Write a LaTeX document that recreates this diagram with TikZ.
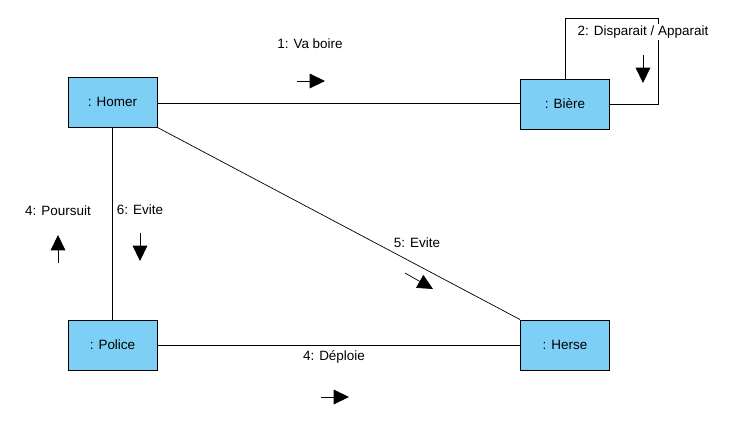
\documentclass[tikz,border=0pt]{standalone}
\usepackage{fontspec}
\setmainfont{Liberation Sans}
\usepackage{tikz}
\usetikzlibrary{arrows.meta, positioning}
\definecolor{objblue}{RGB}{125,207,245}

\begin{document}
\begin{tikzpicture}[x=0.03cm, y=-0.03cm,
    obj/.style={draw, rectangle, fill=objblue, line width=0.8pt, minimum width=2.67cm, minimum height=1.5cm, font=\fontsize{11.5}{13}\selectfont},
    msg/.style={fill=white, inner sep=1.5pt, font=\fontsize{11.5}{13}\selectfont},
    msgarrow/.style={-{Triangle[length=0.46cm, width=0.44cm]}, line width=0.6pt}]
    \useasboundingbox (0,0) rectangle (745,437);

    % Objects
    \node[obj] (homer) at (112.5,102) {: Homer};
    \node[obj] (biere) at (565,104) {: Bière};
    \node[obj] (police) at (112.5,345) {: Police};
    \node[obj] (herse) at (565,345) {: Herse};

    % Links
    \draw[line width=0.6pt] (homer.east |- 0,103) -- (biere.west |- 0,103);
    \draw[line width=0.6pt] (homer) -- (police);
    \draw[line width=0.6pt] (homer.south east) -- (herse.north west);
    \draw[line width=0.6pt] (police) -- (herse);
    \coordinate (loop) at (658,18);
    \draw[line width=0.6pt] (biere.north) |- (loop) |- (biere.east);

    % Messages
    \node[msg] (m1) at (310,44) {1: Va boire};
    \coordinate (m1a) at (297,81);
    \coordinate (m1b) at (325,81);
    \draw[msgarrow] (m1a) -- (m1b);

    \node[msg] (m2) at (643,32) {2: Disparait / Apparait};
    \coordinate (m2a) at (643,55);
    \coordinate (m2b) at (643,83);
    \draw[msgarrow] (m2a) -- (m2b);

    \node[msg] (m4) at (58,211) {4: Poursuit};
    \coordinate (m4a) at (58,263);
    \coordinate (m4b) at (58,235);
    \draw[msgarrow] (m4a) -- (m4b);

    \node[msg] (m6) at (140,210) {6: Evite};
    \coordinate (m6a) at (140,233);
    \coordinate (m6b) at (140,261);
    \draw[msgarrow] (m6a) -- (m6b);

    \node[msg] (m5) at (417,243) {5: Evite};
    \coordinate (m5a) at (405,273);
    \coordinate (m5b) at (433,289);
    \draw[msgarrow] (m5a) -- (m5b);

    \node[msg] (m7) at (334,357) {4: Déploie};
    \coordinate (m7a) at (321,397);
    \coordinate (m7b) at (349,397);
    \draw[msgarrow] (m7a) -- (m7b);
\end{tikzpicture}
\end{document}
